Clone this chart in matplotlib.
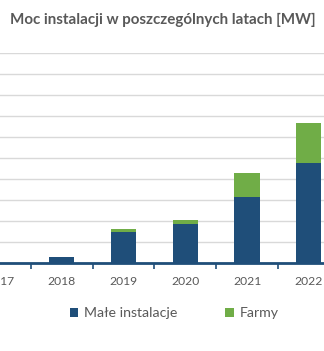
import matplotlib
matplotlib.use("Agg")
import matplotlib.pyplot as plt
from matplotlib.patches import Patch
import numpy as np

# ── Data ──────────────────────────────────────────────────────────────────────
years = ["2017", "2018", "2019", "2020", "2021", "2022"]
male_instalacje = [20, 155, 750, 940, 1570, 2380]   # MW
farmy = [0, 0, 70, 95, 585, 950]                     # MW

TITLE = "Moc instalacji w poszczególnych latach [MW]"
LABELS = ["Małe instalacje", "Farmy"]

NAVY = "#1F4E79"
GREEN = "#70AD47"
TEXT = "#595959"
GRID = "#D9D9D9"

plt.rcParams["font.family"] = ["Lato", "DejaVu Sans"]

# ── Figure ────────────────────────────────────────────────────────────────────
fig = plt.figure(figsize=(3.24, 3.51), dpi=100)
ax = fig.add_axes([0.0, 0.2493, 1.0, 0.5997])

x = np.arange(len(years))
ax.bar(x, male_instalacje, width=0.41, color=NAVY, zorder=3)
ax.bar(x, farmy, width=0.41, bottom=male_instalacje, color=GREEN, zorder=3)

# chart is cropped: 2017 sits just off the left edge, 2022 on the right edge
ax.set_xlim(0.103, 5.246)
ax.set_ylim(0, 5000)
ax.set_yticks(np.arange(0, 5001, 500))
ax.yaxis.grid(True, color=GRID, linewidth=1.0, zorder=0)
ax.tick_params(axis="y", left=False, labelleft=False)

ax.set_xticks(x)
ax.set_xticklabels(years, fontsize=8.7, color=TEXT)
ax.set_xticks(x[:-1] + 0.5, minor=True)
ax.tick_params(axis="x", which="major", length=0, pad=9)
ax.tick_params(axis="x", which="minor", length=4, width=1.2, color=NAVY)

for side in ["top", "left", "right"]:
    ax.spines[side].set_visible(False)
ax.spines["bottom"].set_color(NAVY)
ax.spines["bottom"].set_linewidth(2)
ax.spines["bottom"].set_zorder(4)

fig.text(0.502, 1 - 20 / 351, TITLE, ha="center", va="center",
         fontsize=10.9, fontweight="bold", color=TEXT)

handles = [Patch(facecolor=NAVY), Patch(facecolor=GREEN)]
fig.legend(handles, LABELS, loc="center", bbox_to_anchor=(174 / 324, 1 - 313 / 351),
           ncol=2, frameon=False, fontsize=10.2, labelcolor=TEXT,
           handlelength=0.6, handleheight=0.6, handletextpad=0.4, columnspacing=3.4)

fig.savefig("out.png", dpi=100)
